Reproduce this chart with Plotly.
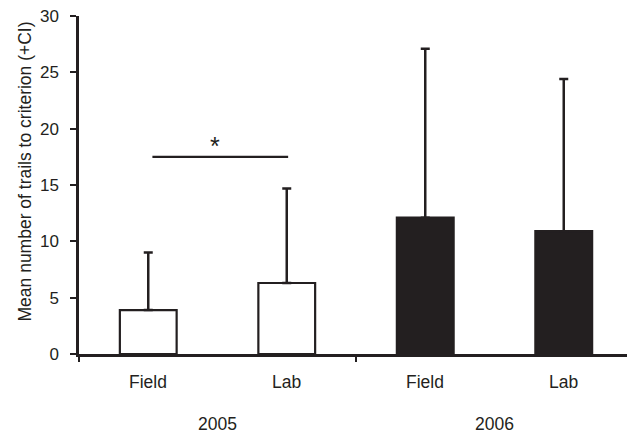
import plotly.graph_objects as go

# Data
years = ["2005", "2005", "2006", "2006"]
groups = ["Field", "Lab", "Field", "Lab"]
means = [3.9, 6.3, 12.1, 10.9]
ci_upper = [9.0, 14.7, 27.1, 24.4]
y_ticks = [0, 5, 10, 15, 20, 25, 30]
sig_value = 17.5
y_title = "Mean number of trails to criterion (+CI)"

INK = "#231f20"
FONT = "Liberation Sans, Arial"
positions = list(range(len(means)))
err_plus = [u - m for u, m in zip(ci_upper, means)]
fills = ["white" if y == "2005" else INK for y in years]

fig = go.Figure()
fig.add_trace(go.Bar(
    x=positions, y=means, width=0.41,
    marker=dict(color=fills, line=dict(color=INK, width=2.2)),
    error_y=dict(type="data", symmetric=False, array=err_plus,
                 arrayminus=[0] * len(means), color=INK, thickness=2.5, width=4.5),
    showlegend=False, hoverinfo="skip",
))

# significance line
fig.add_shape(type="line", x0=0.03, x1=1.01, y0=sig_value, y1=sig_value,
              xref="x", yref="y", line=dict(color=INK, width=2.2))
fig.add_annotation(x=0.48, y=sig_value, xref="x", yref="y", text="*",
                   showarrow=False, yanchor="bottom", yshift=-5,
                   font=dict(size=25, color=INK, family=FONT))

# category labels
for p, g in zip(positions, groups):
    fig.add_annotation(x=p, y=0, xref="x", yref="paper", text=g, showarrow=False,
                       yanchor="middle", yshift=-28,
                       font=dict(size=17.5, color=INK, family=FONT))
for yr in sorted(set(years)):
    idx = [i for i, y in enumerate(years) if y == yr]
    fig.add_annotation(x=sum(idx) / len(idx), y=0, xref="x", yref="paper", text=yr,
                       showarrow=False, yanchor="middle", yshift=-70,
                       font=dict(size=17.5, color=INK, family=FONT))

# y axis title
fig.add_annotation(x=0, y=0.54, xref="paper", yref="paper", text=y_title,
                   textangle=-90, showarrow=False, xanchor="center", yanchor="middle",
                   xshift=-54, font=dict(size=17.5, color=INK, family=FONT))

# page body adds an 8px offset, so the figure is sized/margined to compensate
fig.update_layout(
    width=627, height=427,
    margin=dict(l=71, r=2, t=8, b=81),
    plot_bgcolor="white", paper_bgcolor="white",
    font=dict(family=FONT, color=INK, size=17),
    xaxis=dict(range=[-0.5, 3.5], showgrid=False, zeroline=False, automargin=False,
               showline=True, linecolor=INK, linewidth=2.5,
               tickmode="array", tickvals=[-0.5, 1.5, 3.5], ticktext=["", "", ""],
               ticks="outside", ticklen=5, tickwidth=2, tickcolor=INK),
    yaxis=dict(range=[0, 30], showgrid=False, zeroline=False, automargin=False,
               showline=True, linecolor=INK, linewidth=2.5,
               tickmode="array", tickvals=y_ticks,
               ticks="outside", ticklen=6, tickwidth=2, tickcolor=INK,
               ticklabelstandoff=8, ticklabeloverflow="allow",
               tickfont=dict(size=17, color=INK)),
)

fig.write_html("out.html")
